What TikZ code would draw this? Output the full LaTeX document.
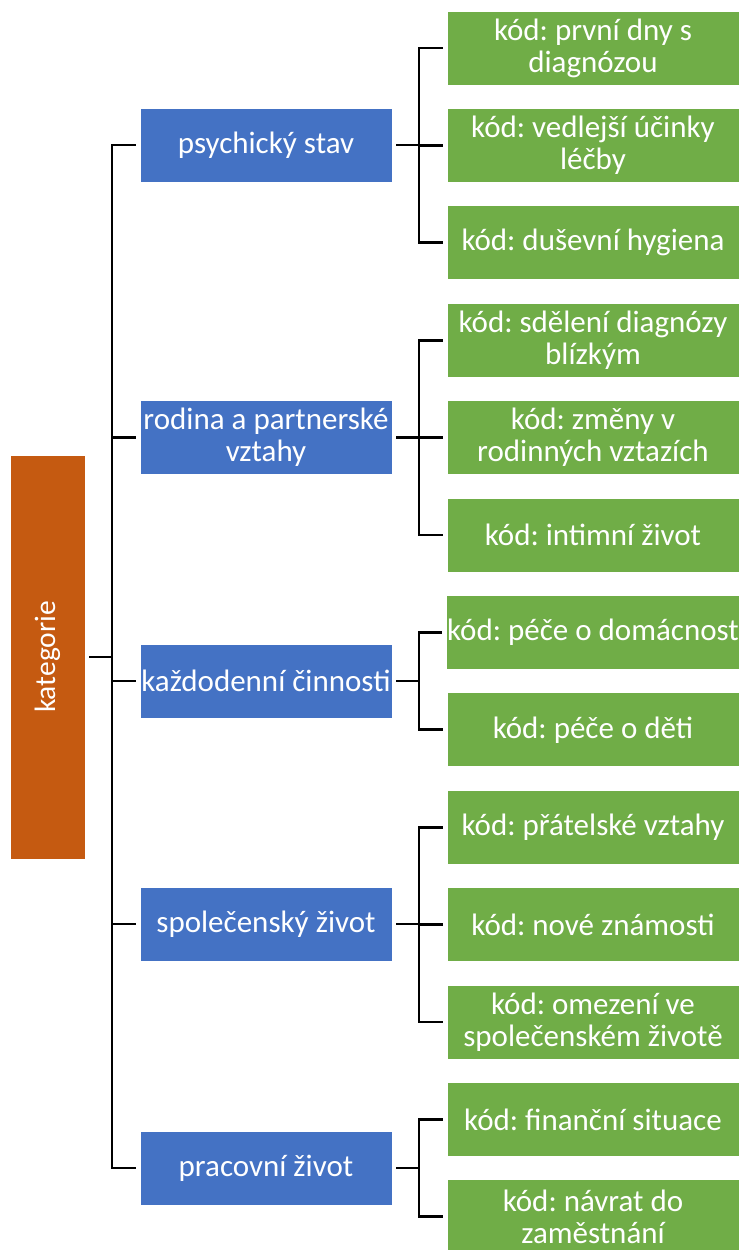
\documentclass[tikz,border=0pt]{standalone}
\usepackage{fontspec}
\setmainfont{Carlito}
\definecolor{kblue}{HTML}{4472C4}
\definecolor{kgreen}{HTML}{70AD47}
\definecolor{korange}{HTML}{C55A11}
\begin{document}
\begin{tikzpicture}[x=1pt,y=-1pt,
  box/.style={draw=white, line width=0.8pt, text=white, inner sep=1pt, align=center,
    font=\fontsize{31}{32}\selectfont\frenchspacing},
  catbox/.style={box, fill=korange, minimum width=75pt, minimum height=404pt},
  subbox/.style={box, fill=kblue, minimum width=252pt, minimum height=74pt},
  codebox/.style={box, fill=kgreen, minimum width=292pt, minimum height=74pt},
  conn/.style={draw=black, line width=2.8pt, shorten <=4pt, shorten >=4pt}]
\useasboundingbox (0,0) rectangle (741,1250);
\fill[white] (0,0) rectangle (741,1250);

\node[catbox] (kat) at (47.5,657) {};
\node[rotate=90, text=white, font=\fontsize{29.5}{32}\selectfont] (katt) at (kat.center) {kategorie};

\node[subbox] (b1) at (266,145) {psychický stav};
\node[subbox] (b2) at (266,437.5) {rodina a partnerské\\vztahy};
\node[subbox] (b3) at (266,681) {každodenní činnosti};
\node[subbox] (b4) at (266,924) {společenský život};
\node[subbox] (b5) at (266,1168) {pracovní život};

\node[codebox] (g1) at (593,48) {kód: první dny s\\diagnózou};
\node[codebox] (g2) at (593,145.4) {kód: vedlejší účinky\\léčby};
\node[codebox] (g3) at (593,242.8) {kód: duševní hygiena};
\node[codebox] (g4) at (593,340.2) {kód: sdělení diagnózy\\blízkým};
\node[codebox] (g5) at (593,437.6) {kód: změny v\\rodinných vztazích};
\node[codebox] (g6) at (593,535) {kód: intimní život};
\node[codebox] (g7) at (593,632.4) {kód: péče o domácnost};
\node[codebox] (g8) at (593,729.8) {kód: péče o děti};
\node[codebox] (g9) at (593,827.2) {kód: přátelské vztahy};
\node[codebox] (g10) at (593,924.6) {kód: nové známosti};
\node[codebox] (g11) at (593,1022) {kód: omezení ve\\společenském životě};
\node[codebox] (g12) at (593,1119.4) {kód: finanční situace};
\node[codebox] (g13) at (593,1216.8) {kód: návrat do\\zaměstnání};

\coordinate (t) at (112,657);
\foreach \b in {b1,b2,b3,b4,b5}
  \draw[conn] (kat.east) -- (t) |- (\b.west);

\coordinate (c1) at (419,145);
\coordinate (c2) at (419,437.5);
\coordinate (c3) at (419,681);
\coordinate (c4) at (419,924);
\coordinate (c5) at (419,1168);
\foreach \g in {g1,g2,g3} \draw[conn] (b1.east) -- (c1) |- (\g.west);
\foreach \g in {g4,g5,g6} \draw[conn] (b2.east) -- (c2) |- (\g.west);
\foreach \g in {g7,g8} \draw[conn] (b3.east) -- (c3) |- (\g.west);
\foreach \g in {g9,g10,g11} \draw[conn] (b4.east) -- (c4) |- (\g.west);
\foreach \g in {g12,g13} \draw[conn] (b5.east) -- (c5) |- (\g.west);
\end{tikzpicture}
\end{document}
